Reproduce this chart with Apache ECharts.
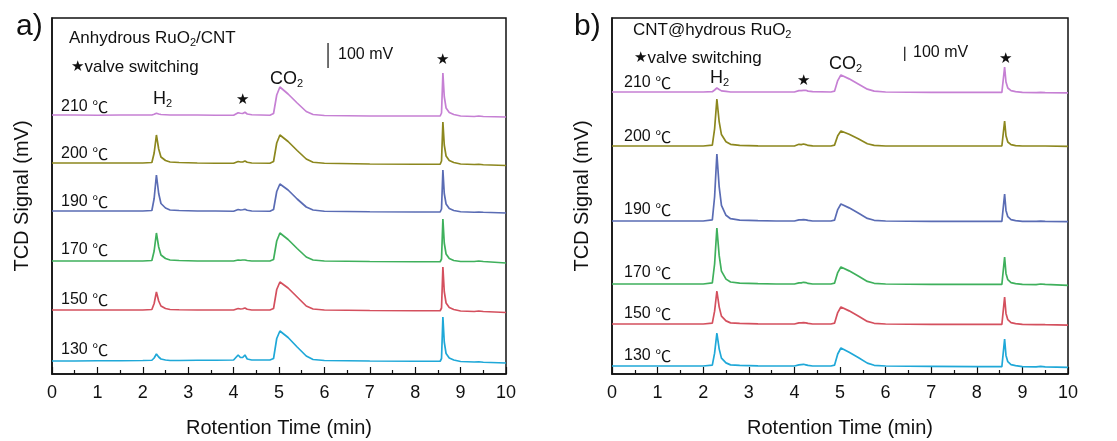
<!DOCTYPE html>
<html>
<head>
<meta charset="utf-8">
<script src="https://cdn.jsdelivr.net/npm/echarts@6/dist/echarts.min.js"></script>
<style>
  html, body { margin: 0; padding: 0; background: #fff; }
  #chart { width: 1117px; height: 441px; }
</style>
</head>
<body>
<div id="chart"></div>
<script>
// Retention-time sample points shared by every chromatogram (min)
const times = [0, 0.5, 1.0, 1.5, 2.0, 2.2, 2.25, 2.3, 2.35, 2.4, 2.5, 2.6, 2.8, 3.2, 3.6,
  4.0, 4.1, 4.15, 4.2, 4.25, 4.3, 4.4, 4.8, 4.88, 4.95, 5.02, 5.2, 5.4, 5.6, 5.75, 6.0,
  7.0, 8.0, 8.55, 8.58, 8.61, 8.64, 8.68, 8.75, 8.85, 9.0, 9.3, 9.4, 9.5, 10.0];

const temperatures = ['130', '150', '170', '190', '200', '210'];
const traceColors = ['#1fa8d8', '#d4505e', '#3fb05c', '#5a6cb4', '#8c871e', '#c680d4'];

// a) Anhydrous RuO2/CNT — TCD signal above each baseline (mV)
const anhydrous130 = [0, 0, 1, 1, 2, 3, 12, 28, 16, 8, 4, 2, 2, 3, 3, 4, 24, 14, 14, 24, 8, 4, 4, 10, 90, 120, 94, 56, 20, 6, 2, 0, -1, -1, 10, 176, 76, 30, 12, 4, -2, -4, -3, -5, -8];
const anhydrous150 = [0, 0, 0, 0, 0, 2, 26, 72, 36, 16, 6, 2, 1, 0, 0, 0, 6, 4, 5, 8, 3, 0, 0, 6, 82, 112, 88, 52, 16, 4, 0, -2, -3, -3, 8, 172, 74, 28, 10, 2, -4, -6, -4, -6, -10];
const anhydrous170 = [0, 0, 0, 0, 0, 2, 40, 112, 56, 24, 10, 4, 2, 0, 0, 0, 4, 3, 4, 4, 2, 0, 0, 6, 80, 112, 86, 50, 16, 4, 0, -2, -3, -3, 8, 168, 72, 28, 10, 2, -2, -2, 0, -2, -8];
const anhydrous190 = [0, 0, 0, 0, 0, 2, 50, 144, 70, 30, 12, 4, 2, 0, 0, -1, 6, 4, 5, 7, 3, 0, -1, 6, 78, 108, 84, 48, 16, 4, -1, -3, -4, -4, 8, 164, 70, 28, 10, 2, -3, -5, -4, -5, -8];
const anhydrous200 = [0, 0, 0, 0, 0, 2, 40, 112, 56, 24, 10, 4, 2, 0, -1, -1, 6, 4, 4, 8, 3, 0, -1, 6, 80, 112, 86, 50, 16, 3, -1, -4, -5, -5, 8, 164, 72, 28, 10, 2, -4, -6, -5, -7, -10];
const anhydrous210 = [0, 0, -1, 0, 0, 0, 3, 7, 4, 2, 1, 0, 0, 0, -1, -1, 9, 7, 6, 11, 4, 1, -1, 6, 80, 112, 84, 48, 14, 2, -2, -4, -4, -4, 8, 168, 74, 28, 10, 2, -4, -6, -4, -6, -8];
// vertical stacking offsets of the baselines (mV)
const anhydrousOffsets = [52, 256, 452, 652, 844, 1036];

// b) CNT@hydrous RuO2 — TCD signal above each baseline (mV)
const hydrous130 = [0, 0, 0, 0, 0, 6, 90, 231, 120, 55, 22, 8, 4, 1, 0, 0, 8, 10, 12, 8, 4, 0, 0, 6, 84, 126, 96, 60, 20, 5, 0, -2, -4, -4, 10, 189, 74, 30, 10, 3, -4, -6, -3, -6, -10];
const hydrous150 = [0, 0, 0, 0, 0, 6, 90, 231, 120, 55, 22, 8, 4, 1, 0, 0, 8, 8, 10, 8, 4, 0, 0, 6, 80, 119, 92, 56, 18, 5, 0, -2, -3, -3, 10, 189, 74, 30, 10, 3, -3, -5, -4, -5, -8];
const hydrous170 = [0, 0, 0, 0, 0, 8, 140, 392, 200, 90, 34, 14, 6, 2, 0, 0, 8, 8, 12, 10, 4, 0, 0, 6, 80, 119, 92, 56, 18, 5, 0, -2, -3, -3, 10, 189, 74, 30, 10, 3, -3, -4, 0, -3, -10];
const hydrous190 = [0, 0, 0, 0, 0, 8, 170, 469, 240, 110, 40, 16, 6, 2, 0, 0, 8, 8, 10, 8, 4, 0, 0, 6, 80, 119, 92, 56, 18, 5, 0, -2, -3, -3, 10, 189, 74, 30, 10, 3, -2, -3, -1, -3, -5];
const hydrous200 = [0, 0, 0, 0, 0, 6, 120, 329, 170, 80, 30, 12, 4, 1, 0, 0, 12, 10, 14, 10, 4, 1, 0, 6, 72, 105, 82, 50, 16, 4, 0, 0, 0, 0, 10, 175, 72, 28, 10, 3, 0, 0, 0, 0, -2];
const hydrous210 = [0, 0, 0, 0, 0, 2, 14, 28, 18, 8, 4, 0, 0, 0, 0, 0, 10, 10, 12, 12, 6, 2, 0, 6, 80, 119, 92, 56, 20, 6, 0, -2, -3, -3, 10, 175, 70, 28, 10, 3, -2, -4, -2, -4, -6];
const hydrousOffsets = [56, 350, 630, 1071, 1596, 1974];

const xTicks = [0, 1, 2, 3, 4, 5, 6, 7, 8, 9, 10];

const anhydrousTraces = [anhydrous130, anhydrous150, anhydrous170, anhydrous190, anhydrous200, anhydrous210];
const hydrousTraces = [hydrous130, hydrous150, hydrous170, hydrous190, hydrous200, hydrous210];

const FONT = '"Liberation Sans", Arial, sans-serif';
const SCALE_BAR = 100; // mV

function traceSeries(traces, offsets, axis) {
  return traces.map((vals, k) => ({
    type: 'line',
    name: temperatures[k] + ' ℃',
    xAxisIndex: axis, yAxisIndex: axis,
    data: times.map((t, i) => [t, vals[i] + offsets[k]]),
    showSymbol: false, symbol: 'none', smooth: false,
    lineStyle: { color: traceColors[k], width: 1.7 },
    itemStyle: { color: traceColors[k] },
    silent: true, z: 3
  }));
}

function scaleBarSeries(t, from, axis) {
  return {
    type: 'line', xAxisIndex: axis, yAxisIndex: axis,
    data: [[t, from], [t, from + SCALE_BAR]],
    symbol: 'none', lineStyle: { color: '#111', width: 1.2 }, silent: true
  };
}

function xAxis(grid) {
  return {
    type: 'value', gridIndex: grid, min: 0, max: 10, interval: 1,
    name: 'Rotention Time (min)', nameLocation: 'middle', nameGap: 44,
    nameTextStyle: { fontFamily: FONT, fontSize: 20, color: '#111' },
    axisLine: { show: true, onZero: false, lineStyle: { color: '#111', width: 1.5 } },
    axisTick: { show: true, inside: true, length: 7, lineStyle: { color: '#111', width: 1.2 } },
    minorTick: { show: true, splitNumber: 2, length: 4, lineStyle: { color: '#111', width: 1.2 } },
    axisLabel: { fontFamily: FONT, fontSize: 18, color: '#111', margin: 10,
      formatter: v => xTicks.includes(v) ? String(v) : '' },
    splitLine: { show: false }
  };
}

function yAxis(grid, max) {
  return {
    type: 'value', gridIndex: grid, min: 0, max: max,
    name: 'TCD Signal (mV)', nameLocation: 'middle', nameGap: 20,
    nameTextStyle: { fontFamily: FONT, fontSize: 20, color: '#111' },
    axisLine: { show: true, lineStyle: { color: '#111', width: 1.5 } },
    axisTick: { show: false }, axisLabel: { show: false }, splitLine: { show: false }
  };
}

const sub = { fontFamily: FONT, fontSize: 11, color: '#111', padding: [9, 0, 0, 0] };

function txt(x, y, text, size, extra) {
  return Object.assign({
    type: 'text', x: x, y: y, silent: true,
    style: Object.assign({ text: text, fontFamily: FONT, fontSize: size, fill: '#111',
      align: 'left', verticalAlign: 'middle' }, extra || {})
  });
}

function richTxt(x, y, text, size) {
  return txt(x, y, text, size, {
    rich: {
      n: { fontFamily: FONT, fontSize: size, color: '#111' },
      s: Object.assign({}, sub),
      st: { fontFamily: 'DejaVu Sans', fontSize: size - 2, color: '#111' },
      deg: { fontFamily: '"Noto Sans CJK SC"', fontSize: size, color: '#333' }
    }
  });
}

function tempLabels(x, ys) {
  return temperatures.map((t, k) => richTxt(x, ys[k], '{n|' + t + ' }{deg|℃}', 16));
}

const gridBase = { show: true, borderColor: '#111', borderWidth: 1.5, backgroundColor: 'transparent',
  outerBoundsMode: 'none', containLabel: false };

const chart = echarts.init(document.getElementById('chart'), null, { renderer: 'canvas' });

chart.setOption({
  animation: false,
  backgroundColor: '#fff',
  grid: [
    Object.assign({ left: 52, top: 18, width: 454, height: 356 }, gridBase),
    Object.assign({ left: 612, top: 18, width: 456, height: 356 }, gridBase)
  ],
  xAxis: [xAxis(0), xAxis(1)],
  yAxis: [yAxis(0, 1424), yAxis(1, 2492)],
  series: [
    ...traceSeries(anhydrousTraces, anhydrousOffsets, 0),
    ...traceSeries(hydrousTraces, hydrousOffsets, 1),
    scaleBarSeries(6.08, 1224, 0),
    scaleBarSeries(6.42, 2191, 1)
  ],
  graphic: [
    // panel a
    txt(16, 27, 'a)', 30),
    richTxt(69, 38, '{n|Anhydrous RuO}{s|2}{n|/CNT}', 17),
    richTxt(71, 67, '{st|★}{n|valve switching}', 17),
    txt(338, 55, '100 mV', 16),
    richTxt(270, 79, '{n|CO}{s|2}', 18),
    richTxt(153, 99, '{n|H}{s|2}', 18),
    txt(236, 100, '★', 15, { fontFamily: 'DejaVu Sans' }),
    txt(436, 60, '★', 15, { fontFamily: 'DejaVu Sans' }),
    ...tempLabels(61, [350, 300, 250, 202, 154, 107]),
    // panel b
    txt(574, 27, 'b)', 30),
    richTxt(633, 30, '{n|CNT@hydrous RuO}{s|2}', 17),
    richTxt(634, 58, '{st|★}{n|valve switching}', 17),
    txt(913, 53, '100 mV', 16),
    richTxt(829, 64, '{n|CO}{s|2}', 18),
    richTxt(710, 78, '{n|H}{s|2}', 18),
    txt(797, 81, '★', 15, { fontFamily: 'DejaVu Sans' }),
    txt(999, 59, '★', 15, { fontFamily: 'DejaVu Sans' }),
    ...tempLabels(624, [356, 314, 273, 210, 137, 83])
  ]
});
</script>
</body>
</html>
